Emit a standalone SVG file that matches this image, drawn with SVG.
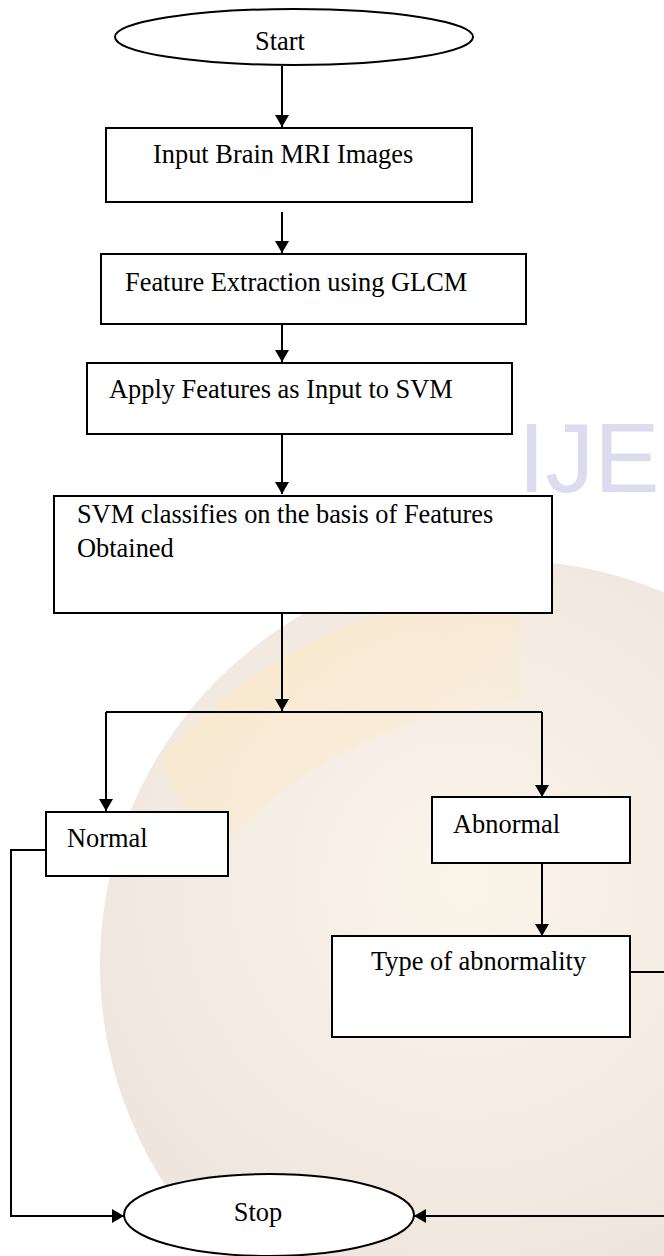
<svg xmlns="http://www.w3.org/2000/svg" width="664" height="1256" viewBox="0 0 664 1256">
<style>
.box{fill:#ffffff;stroke:#000;stroke-width:2}
.t{font-family:"Liberation Serif","Times New Roman",serif;font-size:26.4px;fill:#000}
.c{fill:none;stroke:#000;stroke-width:2}
</style>
<defs>
<marker id="ah" viewBox="0 0 12 14" refX="12" refY="7" markerWidth="12" markerHeight="14" markerUnits="userSpaceOnUse" orient="auto">
<path d="M0,0 L12,7 L0,14 Z" fill="#000"/>
</marker>
<radialGradient id="globe" cx="0.45" cy="0.4" r="0.6">
<stop offset="0" stop-color="#fbf3e6"/>
<stop offset="0.6" stop-color="#f1e6dc"/>
<stop offset="1" stop-color="#e8ddd6"/>
</radialGradient>
<linearGradient id="warm" x1="0" y1="0" x2="1" y2="1">
<stop offset="0" stop-color="#fde9c4" stop-opacity="0.8"/>
<stop offset="1" stop-color="#fde9c4" stop-opacity="0"/>
</linearGradient>
</defs>
<rect width="664" height="1256" fill="#ffffff"/>
<g id="watermark">
<circle cx="505" cy="965" r="405" fill="url(#globe)" opacity="0.85"/>
<path d="M160,760 Q300,600 520,590 L520,700 Q330,720 210,860 Z" fill="url(#warm)"/>
<text x="518" y="492" font-family="'Liberation Sans',Arial,sans-serif" font-size="98" fill="#dcdcee">IJE</text>
</g>
<g id="connectors">
<line class="c" x1="282" y1="66" x2="282" y2="127" marker-end="url(#ah)"/>
<line class="c" x1="282" y1="212" x2="282" y2="253" marker-end="url(#ah)"/>
<line class="c" x1="282" y1="324" x2="282" y2="362" marker-end="url(#ah)"/>
<line class="c" x1="282" y1="434" x2="282" y2="494" marker-end="url(#ah)"/>
<line class="c" x1="282" y1="613" x2="282" y2="711" marker-end="url(#ah)"/>
<polyline class="c" points="106,712 542,712"/>
<line class="c" x1="106" y1="712" x2="106" y2="811" marker-end="url(#ah)"/>
<line class="c" x1="542" y1="712" x2="542" y2="797" marker-end="url(#ah)"/>
<line class="c" x1="542" y1="863" x2="542" y2="936" marker-end="url(#ah)"/>
<polyline class="c" points="46,850 11,850 11,1216 124,1216" marker-end="url(#ah)"/>
<polyline class="c" points="630,972 668,972 668,1216 414,1216" marker-end="url(#ah)"/>
</g>
<g id="start">
<ellipse class="box" cx="294" cy="37" rx="179" ry="28"/>
<text class="t" x="280" y="50" text-anchor="middle">Start</text>
</g>
<g id="input">
<rect class="box" x="106" y="128" width="366" height="74"/>
<text class="t" x="153" y="163">Input Brain MRI Images</text>
</g>
<g id="feature">
<rect class="box" x="101" y="254" width="425" height="70"/>
<text class="t" x="125" y="291">Feature Extraction using GLCM</text>
</g>
<g id="apply">
<rect class="box" x="87" y="363" width="425" height="71"/>
<text class="t" x="109" y="398">Apply Features as Input to SVM</text>
</g>
<g id="svm">
<rect class="box" x="54" y="496" width="498" height="117"/>
<text class="t" x="77" y="523">SVM classifies on the basis of Features</text>
<text class="t" x="77" y="557">Obtained</text>
</g>
<g id="normal">
<rect class="box" x="46" y="812" width="182" height="64"/>
<text class="t" x="67" y="847">Normal</text>
</g>
<g id="abnormal">
<rect class="box" x="432" y="797" width="198" height="66"/>
<text class="t" x="453" y="833">Abnormal</text>
</g>
<g id="type">
<rect class="box" x="332" y="936" width="298" height="101"/>
<text class="t" x="371" y="970">Type of abnormality</text>
</g>
<g id="stop">
<ellipse class="box" cx="269" cy="1215" rx="145" ry="41"/>
<text class="t" x="258" y="1221" text-anchor="middle" font-size="20">Stop</text>
</g>
</svg>
